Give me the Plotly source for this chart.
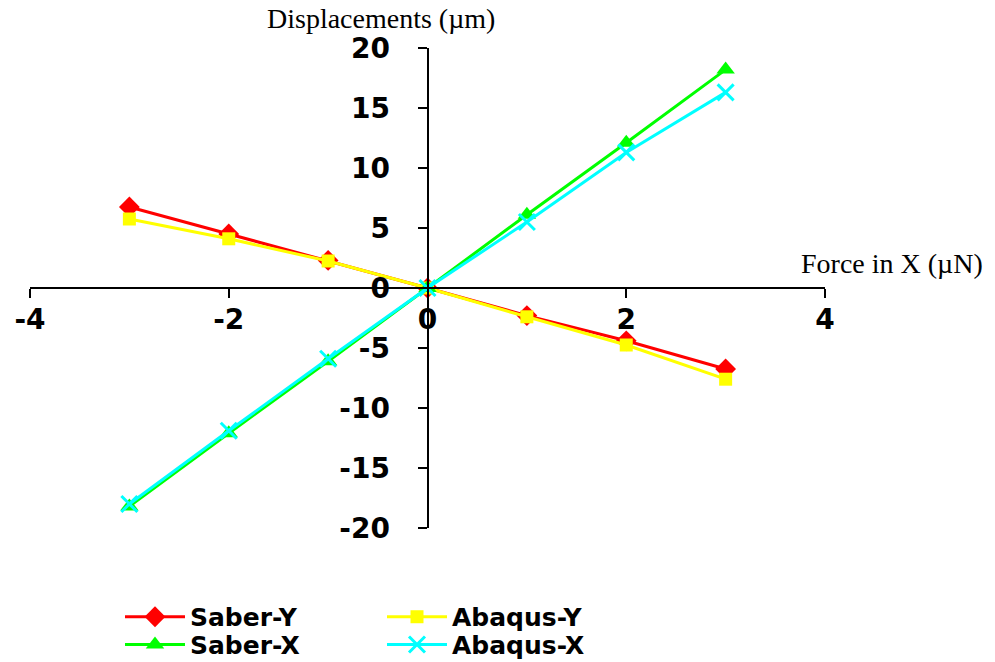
import plotly.graph_objects as go

# Applied force (µN) and resulting displacements (µm)
force = [-3, -2, -1, 0, 1, 2, 3]
saber_y = [6.75, 4.5, 2.3, 0, -2.3, -4.4, -6.75]
abaqus_y = [5.75, 4.1, 2.25, 0, -2.4, -4.75, -7.6]
saber_x = [-18.2, -12.1, -6.1, 0, 6.1, 12.1, 18.2]
abaqus_x = [-18.0, -11.9, -5.9, 0, 5.5, 11.3, 16.3]

x_ticks = [-4, -2, 0, 2, 4]
y_ticks = [-20, -15, -10, -5, 0, 5, 10, 15, 20]

# Y displacements on the first legend row, X displacements on the second
series = [
    ("Saber-Y", saber_y, "#ff0000", dict(symbol="diamond", size=16), "legend"),
    ("Abaqus-Y", abaqus_y, "#ffff00", dict(symbol="square", size=13), "legend"),
    ("Saber-X", saber_x, "#00ff00", dict(symbol="triangle-up", size=16), "legend2"),
    ("Abaqus-X", abaqus_x, "#00ffff", dict(symbol="x-thin", size=16,
                                            line=dict(width=3, color="#00ffff")), "legend2"),
]

fig = go.Figure()
for name, vals, color, marker, leg in series:
    fig.add_trace(go.Scatter(
        x=force, y=vals, name=name, mode="lines+markers",
        line=dict(color=color, width=3),
        marker=dict(color=color, **marker),
        legend=leg,
    ))

tick_font = dict(family="DejaVu Sans", size=28, color="black", weight="bold")
title_font = dict(family="Liberation Serif", size=28, color="black")
legend_font = dict(family="DejaVu Sans", size=25, color="black", weight="bold")
legend_row = dict(
    orientation="h", x=0.1206, xanchor="left", yanchor="middle",
    xref="container", yref="container", font=legend_font,
    entrywidth=187, entrywidthmode="pixels", itemwidth=60,
    bgcolor="rgba(0,0,0,0)",
)

fig.update_layout(
    width=995, height=662,
    margin=dict(l=30, r=170, t=48, b=134, autoexpand=False),
    plot_bgcolor="white", paper_bgcolor="white",
    showlegend=True,
    legend=dict(legend_row, y=0.068),
    legend2=dict(legend_row, y=0.026),
    xaxis=dict(
        range=[-4, 4], tickvals=x_ticks, ticktext=[str(v) for v in x_ticks],
        showgrid=False, zeroline=False,
        showline=True, linecolor="black", linewidth=2,
        ticks="outside", ticklen=9, tickwidth=2, tickcolor="black",
        anchor="free", position=0.5, tickfont=tick_font,
        ticklabelstandoff=-3,
    ),
    yaxis=dict(
        range=[-20, 20], tickvals=y_ticks, ticktext=[str(v) for v in y_ticks],
        showgrid=False, zeroline=False,
        showline=True, linecolor="black", linewidth=2,
        ticks="outside", ticklen=9, tickwidth=2, tickcolor="black",
        anchor="free", position=0.5, tickfont=tick_font,
        ticklabelstandoff=22,
    ),
    annotations=[
        dict(text="Displacements (µm)", x=0.4415, y=1.0, xref="paper", yref="paper",
             xanchor="center", yanchor="middle", yshift=30, showarrow=False,
             font=title_font),
        dict(text="Force in X (µN)", x=1.084, y=0.5, xref="paper", yref="paper",
             xanchor="center", yanchor="middle", yshift=25, showarrow=False,
             font=title_font),
    ],
)

fig.write_html("out.html")
